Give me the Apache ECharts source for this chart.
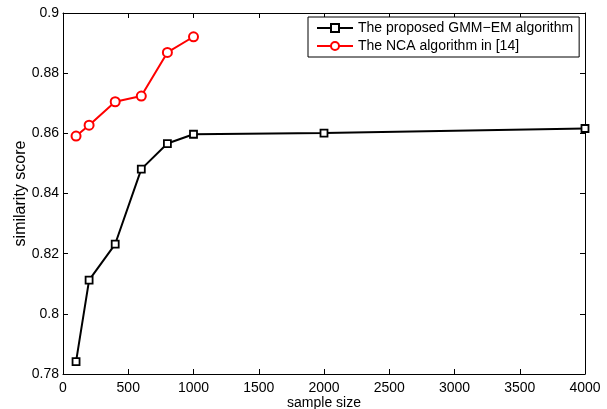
<!DOCTYPE html>
<html>
<head>
<meta charset="utf-8">
<script src="https://cdn.jsdelivr.net/npm/echarts@6/dist/echarts.min.js"></script>
<style>
  html, body { margin: 0; padding: 0; background: #fff; }
  #chart { width: 607px; height: 409px; }
</style>
</head>
<body>
<div id="chart"></div>
<script>
// 样本数量
const sampleSizes = [100, 200, 400, 600, 800, 1000, 2000, 4000];
const ncaSizes = [100, 200, 400, 600, 800, 1000];

// 相似度得分
const gmmScores = [0.7841, 0.8112, 0.8232, 0.8481, 0.8566, 0.8597, 0.8601, 0.8616];
const ncaScores = [0.8591, 0.8627, 0.8705, 0.8724, 0.8869, 0.8921];

const seriesNames = ['The proposed GMM\u2212EM algorithm', 'The NCA algorithm in [14]'];

const font = 'Liberation Sans, Arial, Helvetica, sans-serif';

const chart = echarts.init(document.getElementById('chart'));

const axisLine = { show: true, onZero: false, lineStyle: { color: '#000', width: 1 } };
const axisTick = { show: true, inside: true, length: 5, lineStyle: { color: '#000' } };

chart.setOption({
    backgroundColor: '#fff',
    animation: false,
    textStyle: { fontFamily: font },
    grid: { left: 63, right: 22, top: 13, bottom: 35, outerBoundsMode: 'none' },
    legend: {
        orient: 'vertical',
        left: 308,
        top: 17,
        width: 269,
        padding: [4, 6, 4, 8],
        itemGap: 4,
        itemWidth: 36,
        itemHeight: 10,
        borderColor: '#000',
        borderWidth: 1,
        backgroundColor: '#fff',
        textStyle: { fontSize: 14, color: '#000', fontFamily: font },
        data: seriesNames
    },
    xAxis: [
        {
            type: 'value',
            min: 0, max: 4000, interval: 500,
            name: 'sample size',
            nameLocation: 'middle',
            nameGap: 22,
            nameMoveOverlap: false,
            nameTextStyle: { fontSize: 14, color: '#000' },
            axisLine: axisLine,
            axisTick: axisTick,
            axisLabel: { fontSize: 14, color: '#000', margin: 7, formatter: v => String(v) },
            splitLine: { show: false }
        },
        {
            type: 'value', position: 'top',
            min: 0, max: 4000, interval: 500,
            axisLine: axisLine, axisTick: axisTick,
            axisLabel: { show: false }, splitLine: { show: false }
        }
    ],
    yAxis: [
        {
            type: 'value',
            min: 0.78, max: 0.9, interval: 0.02,
            name: 'similarity score',
            nameLocation: 'middle',
            nameGap: 34,
            nameMoveOverlap: false,
            nameTextStyle: { fontSize: 16, color: '#000' },
            axisLine: axisLine,
            axisTick: axisTick,
            axisLabel: { fontSize: 14, color: '#000', margin: 4 },
            splitLine: { show: false }
        },
        {
            type: 'value', position: 'right',
            min: 0.78, max: 0.9, interval: 0.02,
            axisLine: axisLine, axisTick: axisTick,
            axisLabel: { show: false }, splitLine: { show: false }
        }
    ],
    series: [
        {
            name: seriesNames[0],
            type: 'line',
            data: sampleSizes.map((x, i) => [x, gmmScores[i]]),
            symbol: 'rect',
            symbolSize: 7,
            lineStyle: { color: '#000', width: 2 },
            itemStyle: { color: '#fff', borderColor: '#000', borderWidth: 1.8 },
            emphasis: { disabled: true }
        },
        {
            name: seriesNames[1],
            type: 'line',
            data: ncaSizes.map((x, i) => [x, ncaScores[i]]),
            symbol: 'circle',
            symbolSize: 9,
            lineStyle: { color: '#ff0000', width: 2 },
            itemStyle: { color: '#fff', borderColor: '#ff0000', borderWidth: 2 },
            emphasis: { disabled: true }
        }
    ]
});
</script>
</body>
</html>
